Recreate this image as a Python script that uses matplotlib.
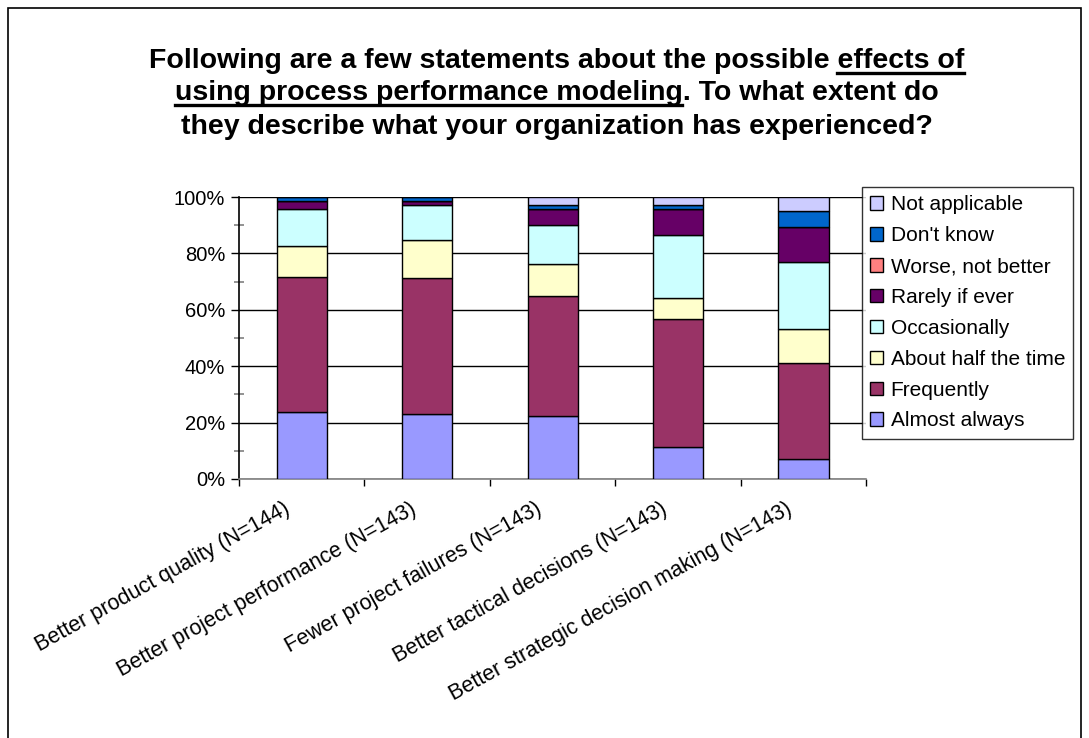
import numpy as np
import matplotlib
matplotlib.use("Agg")
from matplotlib import pyplot as plt
from matplotlib.patches import Rectangle
from matplotlib.ticker import MultipleLocator, PercentFormatter

plt.rcParams['font.family'] = ['Liberation Sans', 'DejaVu Sans']

categories = ['Better product quality (N=144)',
              'Better project performance (N=143)',
              'Fewer project failures (N=143)',
              'Better tactical decisions (N=143)',
              'Better strategic decision making (N=143)']
n_resp = [144, 143, 143, 143, 143]

responses = ['Almost always', 'Frequently', 'About half the time', 'Occasionally',
             'Rarely if ever', 'Worse, not better', "Don't know", 'Not applicable']
colors = ['#9999FF', '#993366', '#FFFFCC', '#CCFFFF',
          '#660066', '#FF8080', '#0066CC', '#CCCCFF']

# respondent counts per category, in the order of `responses`
almost_always = [34, 33, 32, 16, 10]
frequently    = [69, 69, 61, 65, 49]
half_time     = [16, 19, 16, 11, 17]
occasionally  = [19, 18, 20, 32, 34]
rarely        = [4, 2, 8, 13, 18]
worse         = [0, 0, 0, 0, 0]
dont_know     = [2, 2, 2, 2, 8]
not_appl      = [0, 0, 4, 4, 7]

counts = np.array([almost_always, frequently, half_time, occasionally,
                   rarely, worse, dont_know, not_appl], dtype=float)
pct = counts / np.array(n_resp) * 100

fig = plt.figure(figsize=(10.89, 7.38), dpi=100)
ax = fig.add_axes([0.2195, 0.351, 0.576, 0.382])

x = np.arange(len(categories))
bottom = np.zeros(len(categories))
handles = []
for vals, lab, col in zip(pct, responses, colors):
    b = ax.bar(x, vals, 0.4, bottom=bottom, color=col, edgecolor='black',
               linewidth=1.0, label=lab, zorder=3)
    handles.append(b)
    bottom += vals

ax.set_xlim(-0.5, len(categories) - 0.5)
ax.set_ylim(0, 100)
ax.yaxis.set_major_locator(MultipleLocator(20))
ax.yaxis.set_minor_locator(MultipleLocator(10))
ax.yaxis.set_major_formatter(PercentFormatter(decimals=0))
ax.grid(axis='y', which='major', color='black', linewidth=1.0, zorder=0)
ax.tick_params(axis='y', which='major', direction='out', length=6, width=1,
               labelsize=14.5, pad=4)
ax.tick_params(axis='y', which='minor', direction='inout', length=7, width=1.2,
               color='#808080')

ax.set_xticks(np.arange(len(categories) + 1) - 0.5, minor=False)
ax.set_xticklabels([])
ax.tick_params(axis='x', which='major', direction='out', length=5, width=1)
for xi, lab in zip(x, categories):
    ax.annotate(lab, xy=(xi, 0), xycoords='data', xytext=(-13, -14),
                textcoords='offset points', rotation=29, rotation_mode='anchor',
                ha='right', va='top', fontsize=15.5)

for s in ['top', 'right']:
    ax.spines[s].set_visible(False)
ax.spines['left'].set_linewidth(1.2)
ax.spines['bottom'].set_color('#808080')
ax.spines['bottom'].set_linewidth(1.2)

leg = fig.legend(handles[::-1], responses[::-1], loc='upper left',
                 bbox_to_anchor=(0.7916, 0.7466), frameon=True, fontsize=15,
                 handlelength=0.62, handleheight=0.62, handletextpad=0.35,
                 labelspacing=0.57, borderpad=0.4, fancybox=False,
                 borderaxespad=0)
leg.get_frame().set_edgecolor('black')
leg.get_frame().set_linewidth(1.0)

# title lines, with underlined phrases drawn by measuring the text
title_lines = [("Following are a few statements about the possible ", "effects of", ""),
               ("", "using process performance modeling", ". To what extent do"),
               ("they describe what your organization has experienced?", "", "")]
title_y = [0.908, 0.864, 0.819]
cx = 0.511
tkw = dict(fontsize=20.5, fontweight='bold')
fig.canvas.draw()
renderer = fig.canvas.get_renderer()
W, H = fig.get_size_inches() * fig.dpi


def text_width(s):
    if not s:
        return 0.0
    t = fig.text(0, 0, s, **tkw)
    w = t.get_window_extent(renderer).width
    t.remove()
    return w


for (pre, und, post), ty in zip(title_lines, title_y):
    full = pre + und + post
    t = fig.text(cx, ty, full, ha='center', va='baseline', **tkw)
    if und:
        ext = t.get_window_extent(renderer)
        end = ext.x0 + text_width(pre + und)
        start = end - text_width(und)
        uy = ty - 5.0 / H
        fig.add_artist(plt.Line2D([start / W, end / W], [uy, uy],
                                  transform=fig.transFigure, color='black',
                                  linewidth=2.4))

fig.add_artist(Rectangle((0.0075, -0.01), 0.985, 0.999, transform=fig.transFigure,
                         fill=False, edgecolor='black', linewidth=1.2))

fig.savefig('out.png', dpi=100)
